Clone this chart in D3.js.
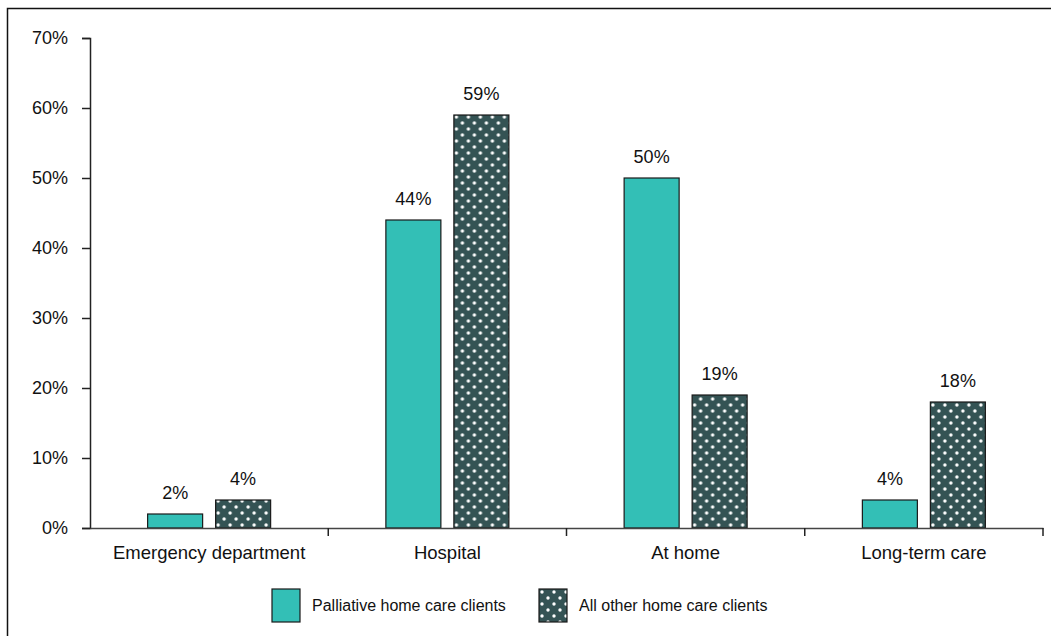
<!DOCTYPE html>
<html lang="en">
<head>
<meta charset="utf-8">
<title>Place of death</title>
<script src="https://cdn.jsdelivr.net/npm/d3@7"></script>
<style>
  body { margin: 0; background: #fff; }
  text { font-family: "Liberation Sans", Arial, sans-serif; fill: #111; }
</style>
</head>
<body>
<script>
// data
var categories = ["Emergency department", "Hospital", "At home", "Long-term care"];
var seriesNames = ["Palliative home care clients", "All other home care clients"];
var palliative = [2, 44, 50, 4];
var allOther = [4, 59, 19, 18];
var yTicks = [0, 10, 20, 30, 40, 50, 60, 70];

var w = 1051, h = 636;
var mLeft = 90, mRight = 1043, mTop = 38, mBottom = 528;
var teal = "#33bfb6", dark = "#345354";

var svg = d3.select("body").append("svg")
  .attr("width", w)
  .attr("height", h);

// dotted pattern
var pat = svg.append("defs").append("pattern")
  .attr("id", "dots")
  .attr("patternUnits", "userSpaceOnUse")
  .attr("width", 12).attr("height", 12);
pat.append("rect").attr("width", 12).attr("height", 12).attr("fill", dark);
pat.append("circle").attr("cx", 3).attr("cy", 3).attr("r", 1.7).attr("fill", "#fff");
pat.append("circle").attr("cx", 9).attr("cy", 9).attr("r", 1.7).attr("fill", "#fff");

// frame
svg.append("rect")
  .attr("x", 7.5).attr("y", 8.5)
  .attr("width", w + 20).attr("height", h + 20)
  .attr("fill", "none")
  .attr("stroke", "#111")
  .attr("stroke-width", 1.5);

var x = d3.scaleBand().domain(categories).range([mLeft, mRight]);
var y = d3.scaleLinear().domain([0, 70]).range([mBottom, mTop]);

var rows = categories.map(function(c, i) {
  return { cat: c, values: [palliative[i], allOther[i]] };
});

var barW = 55, off = 34;

var groups = svg.selectAll("g.cat")
  .data(rows)
  .enter().append("g")
  .attr("class", "cat")
  .attr("transform", function(d) { return "translate(" + (x(d.cat) + x.bandwidth() / 2) + ",0)"; });

groups.selectAll("rect")
  .data(function(d) { return d.values; })
  .enter().append("rect")
  .attr("x", function(d, i) { return (i === 0 ? -off : off) - barW / 2; })
  .attr("y", function(d) { return y(d); })
  .attr("width", barW)
  .attr("height", function(d) { return y(0) - y(d); })
  .attr("fill", function(d, i) { return i === 0 ? teal : "url(#dots)"; })
  .attr("stroke", "#1a1a1a")
  .attr("stroke-width", 1.2);

groups.selectAll("text.val")
  .data(function(d) { return d.values; })
  .enter().append("text")
  .attr("class", "val")
  .attr("x", function(d, i) { return i === 0 ? -off : off; })
  .attr("y", function(d) { return y(d) - 15; })
  .attr("text-anchor", "middle")
  .attr("font-size", "18px")
  .text(function(d) { return d + "%"; });

// y axis
var yAxis = d3.axisLeft(y)
  .tickValues(yTicks)
  .tickSize(8)
  .tickPadding(14)
  .tickFormat(function(d) { return d + "%"; });

var gy = svg.append("g")
  .attr("transform", "translate(" + mLeft + ",0)")
  .call(yAxis);
gy.select(".domain").attr("stroke", "#222").attr("stroke-width", 1.5);
gy.selectAll(".tick line").attr("stroke", "#222").attr("stroke-width", 1.5);
gy.selectAll(".tick text").attr("font-size", "18px").attr("font-family", "Liberation Sans, Arial, sans-serif").attr("fill", "#111");

// x axis
var xAxis = d3.axisBottom(x).tickSize(0).tickPadding(18);
var gx = svg.append("g")
  .attr("transform", "translate(0," + mBottom + ")")
  .call(xAxis);
gx.select(".domain").attr("stroke", "#444").attr("stroke-width", 1.5);
gx.selectAll(".tick text").attr("font-size", "18.5px").attr("font-family", "Liberation Sans, Arial, sans-serif").attr("fill", "#111");

// category separators
var bounds = categories.map(function(c) { return x(c) + x.bandwidth(); });
gx.selectAll("line.sep")
  .data(bounds)
  .enter().append("line")
  .attr("class", "sep")
  .attr("x1", function(d) { return d; })
  .attr("x2", function(d) { return d; })
  .attr("y1", 0).attr("y2", 8)
  .attr("stroke", "#222").attr("stroke-width", 1.5);

// legend
var legendX = [272, 539];
var leg = svg.selectAll("g.leg")
  .data(seriesNames)
  .enter().append("g")
  .attr("class", "leg")
  .attr("transform", function(d, i) { return "translate(" + legendX[i] + ",589)"; });
leg.append("rect")
  .attr("width", 28).attr("height", 33)
  .attr("fill", function(d, i) { return i === 0 ? teal : "url(#dots)"; })
  .attr("stroke", "#1a1a1a").attr("stroke-width", 1.2);
leg.append("text")
  .attr("x", 40).attr("y", 22)
  .attr("font-size", "16px")
  .text(function(d) { return d; });
</script>
</body>
</html>
